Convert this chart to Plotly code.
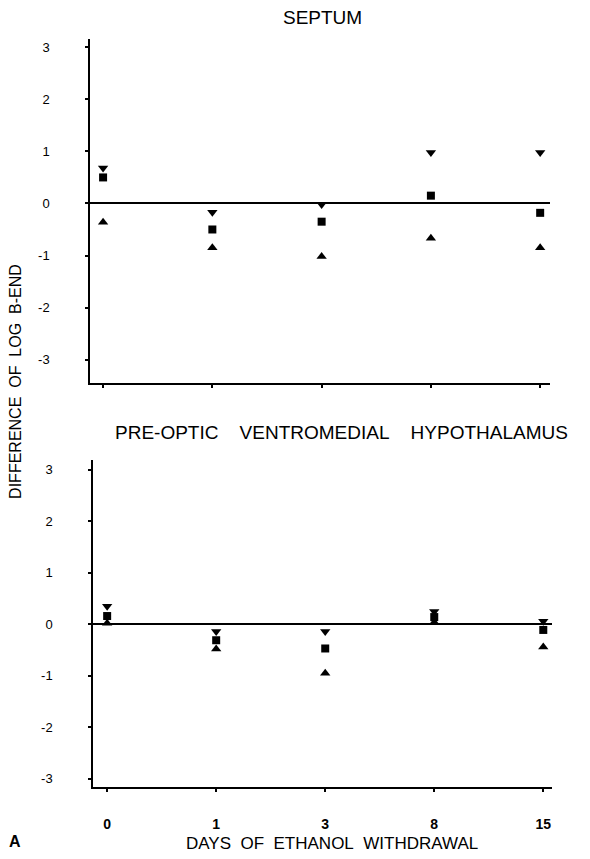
import plotly.graph_objects as go

days = ["0", "1", "3", "8", "15"]
day_index = [0, 1, 2, 3, 4]

# SEPTUM panel
septum_upper = [0.68, -0.17, -0.02, 0.98, 0.98]
septum_mean = [0.50, -0.50, -0.35, 0.15, -0.18]
septum_lower = [-0.36, -0.85, -1.02, -0.67, -0.85]

# PRE-OPTIC VENTROMEDIAL HYPOTHALAMUS panel
povh_upper = [0.35, -0.14, -0.14, 0.25, 0.06]
povh_mean = [0.16, -0.31, -0.47, 0.14, -0.11]
povh_lower = [0.02, -0.48, -0.95, 0.04, -0.44]

y_tickvals = [-3, -2, -1, 0, 1, 2, 3]
y_ticktext = ["-3", "-2", "-1", "0", "1", "2", "3"]

FONT = "Liberation Sans, Arial, Helvetica, sans-serif"

fig = go.Figure()

def add_panel(xa, ya, upper, mean, lower):
    fig.add_trace(go.Scatter(x=day_index, y=upper, mode="markers", name="upper",
                             marker=dict(symbol="triangle-down", size=9, color="black"),
                             xaxis=xa, yaxis=ya, showlegend=False))
    fig.add_trace(go.Scatter(x=day_index, y=mean, mode="markers", name="mean",
                             marker=dict(symbol="square", size=8, color="black"),
                             xaxis=xa, yaxis=ya, showlegend=False))
    fig.add_trace(go.Scatter(x=day_index, y=lower, mode="markers", name="lower",
                             marker=dict(symbol="triangle-up", size=9, color="black"),
                             xaxis=xa, yaxis=ya, showlegend=False))

add_panel("x", "y", septum_upper, septum_mean, septum_lower)
add_panel("x2", "y2", povh_upper, povh_mean, povh_lower)

common_x = dict(showline=True, linecolor="black", linewidth=1.5, ticks="outside",
                ticklen=3, tickwidth=2, tickcolor="black", showgrid=False, zeroline=False,
                tickvals=day_index)
common_y = dict(showline=True, linecolor="black", linewidth=1.5, ticks="outside",
                ticklen=3, tickwidth=2, tickcolor="black", showgrid=False,
                zeroline=True, zerolinecolor="black", zerolinewidth=1.5,
                tickvals=y_tickvals, ticktext=y_ticktext, ticklabelstandoff=33,
                tickfont=dict(family=FONT, size=13, color="black"))

fig.update_layout(
    width=590, height=859, autosize=False,
    margin=dict(l=0, r=0, t=0, b=0),
    paper_bgcolor="white", plot_bgcolor="white",
    font=dict(family=FONT, color="black"),
    xaxis=dict(domain=[0.1525, 0.9322], anchor="y", range=[-0.12, 4.09],
               showticklabels=False, **common_x),
    yaxis=dict(domain=[0.5541, 0.9546], anchor="x", range=[-3.45, 3.16], **common_y),
    xaxis2=dict(domain=[0.1576, 0.9356], anchor="y2", range=[-0.13, 4.08],
                ticktext=days, ticklabelstandoff=20,
                tickfont=dict(family=FONT, size=14, color="black", weight="bold"),
                **common_x),
    yaxis2=dict(domain=[0.0838, 0.4645], anchor="x2", range=[-3.16, 3.19], **common_y),
)

nb = "\u00a0"
annotations = [
    dict(text="SEPTUM", x=0.547, y=0.980, font=dict(size=19)),
    dict(text=f"PRE-OPTIC{nb*4}VENTROMEDIAL{nb*4}HYPOTHALAMUS", x=0.578, y=0.497,
         font=dict(size=19)),
    dict(text=f"DAYS{nb*2}OF{nb*2}ETHANOL{nb*2}WITHDRAWAL", x=0.5627, y=0.0186,
         font=dict(size=17)),
    dict(text="<b>A</b>", x=0.0254, y=0.0209, font=dict(size=16)),
    dict(text=f"DIFFERENCE{nb*2}OF{nb*2}LOG{nb*2}B-END", x=0.027, y=0.5565,
         textangle=-90, font=dict(size=16)),
]
for a in annotations:
    fig.add_annotation(xref="paper", yref="paper", showarrow=False,
                       xanchor="center", yanchor="middle",
                       **{k: v for k, v in a.items() if k != "font"},
                       font=dict(family=FONT, color="black", **a["font"]))

fig.write_html("out.html")
